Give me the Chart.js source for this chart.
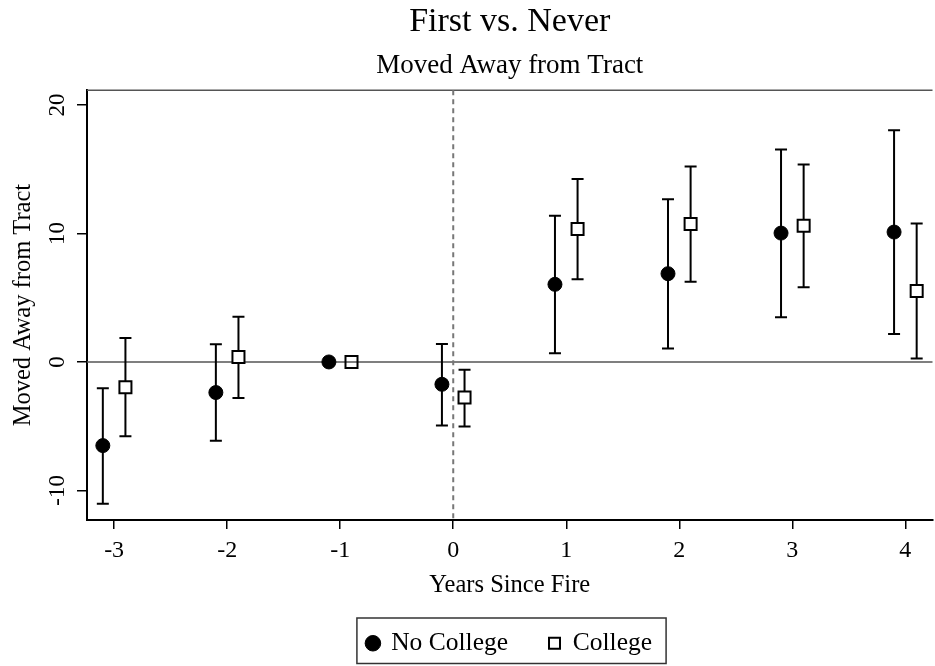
<!DOCTYPE html>
<html>
<head>
<meta charset="utf-8">
<script src="https://cdn.jsdelivr.net/npm/chart.js@4.4.0/dist/chart.umd.min.js"></script>
<style>
  html, body { margin: 0; padding: 0; background: #fff; overflow: hidden; }
  canvas { display: block; }
</style>
</head>
<body>
<canvas id="eventChart" width="943" height="666"></canvas>
<script>
Chart.defaults.font.family = "'Liberation Serif', 'Times New Roman', serif";
Chart.defaults.color = '#000';

// event time relative to the fire
const years = [-3, -2, -1, 0, 1, 2, 3, 4];
const yTicks = [-10, 0, 10, 20];

// no college: point estimate and 95% CI (year -1 is the omitted base)
const noCollegeEst = [-6.51, -2.38, 0, -1.74, 6.04, 6.87, 10.03, 10.11];
const noCollegeLo  = [-11.04, -6.14, null, -4.95, 0.67, 1.04, 3.47, 2.18];
const noCollegeHi  = [-2.05, 1.37, null, 1.40, 11.38, 12.67, 16.54, 18.04];

// college
const collegeEst = [-1.97, 0.39, 0, -2.77, 10.34, 10.73, 10.60, 5.52];
const collegeLo  = [-5.78, -2.80, null, -5.03, 6.43, 6.25, 5.81, 0.26];
const collegeHi  = [1.87, 3.52, null, -0.60, 14.23, 15.22, 15.37, 10.78];

// dodge the two groups a little around each year
function dodge(est, dx) {
  return years.map((yr, i) => ({ x: yr + dx, y: est[i] }));
}

// zero line, plot top edge and the dashed line at year 0
const refLines = {
  id: 'refLines',
  beforeDatasetsDraw(chart) {
    const { ctx, chartArea: a, scales: { x, y } } = chart;
    ctx.save();
    ctx.strokeStyle = '#555';
    ctx.lineWidth = 1.5;
    const y0 = y.getPixelForValue(0);
    ctx.beginPath();
    ctx.moveTo(a.left, y0); ctx.lineTo(a.right, y0);
    ctx.moveTo(a.left, a.top); ctx.lineTo(a.right, a.top);
    ctx.stroke();

    const x0 = x.getPixelForValue(0);
    ctx.strokeStyle = '#777';
    ctx.lineWidth = 2;
    ctx.setLineDash([5, 4]);
    ctx.beginPath();
    ctx.moveTo(x0, a.top); ctx.lineTo(x0, a.bottom);
    ctx.stroke();
    ctx.restore();
  }
};

// capped confidence intervals
const errorBars = {
  id: 'errorBars',
  beforeDatasetsDraw(chart) {
    const { ctx, scales: { x, y } } = chart;
    ctx.save();
    ctx.strokeStyle = '#000';
    ctx.lineWidth = 2;
    chart.data.datasets.forEach(ds => {
      ds.data.forEach((pt, i) => {
        if (ds.lo[i] == null) return;
        const px = x.getPixelForValue(pt.x);
        const top = y.getPixelForValue(ds.hi[i]);
        const bot = y.getPixelForValue(ds.lo[i]);
        ctx.beginPath();
        ctx.moveTo(px, top); ctx.lineTo(px, bot);
        ctx.moveTo(px - 6, top); ctx.lineTo(px + 6, top);
        ctx.moveTo(px - 6, bot); ctx.lineTo(px + 6, bot);
        ctx.stroke();
      });
    });
    ctx.restore();
  }
};

// frame around the legend
const legendFrame = {
  id: 'legendFrame',
  afterDraw(chart) {
    const boxes = chart.legend && chart.legend.legendHitBoxes;
    if (!boxes || !boxes.length) return;
    const left = Math.min(...boxes.map(b => b.left));
    const right = Math.max(...boxes.map(b => b.left + b.width));
    const top = Math.min(...boxes.map(b => b.top));
    const bottom = Math.max(...boxes.map(b => b.top + b.height));
    const { ctx } = chart;
    ctx.save();
    ctx.strokeStyle = '#333';
    ctx.lineWidth = 1.5;
    ctx.strokeRect(left - 10.5, top - 12.5, right - left + 24.5, bottom - top + 20);
    ctx.restore();
  }
};

new Chart(document.getElementById('eventChart'), {
  type: 'scatter',
  data: {
    datasets: [{
      label: 'No College',
      data: dodge(noCollegeEst, -0.1),
      lo: noCollegeLo,
      hi: noCollegeHi,
      pointStyle: 'circle',
      pointRadius: 7,
      backgroundColor: '#000',
      borderColor: '#000',
      borderWidth: 1
    }, {
      label: 'College',
      data: dodge(collegeEst, 0.1),
      lo: collegeLo,
      hi: collegeHi,
      pointStyle: 'rect',
      pointRadius: 8.5,
      backgroundColor: c => (collegeHi[c.dataIndex] == null ? 'rgba(0,0,0,0)' : '#fff'),
      borderColor: '#000',
      borderWidth: 2
    }]
  },
  options: {
    responsive: false,
    animation: false,
    layout: { padding: { left: 0, right: 0, top: 0, bottom: 0 } },
    plugins: {
      title: {
        display: true,
        text: 'First vs. Never',
        fullSize: false,
        color: '#000',
        font: { size: 34, weight: 'normal' },
        padding: { top: 2, bottom: 0 }
      },
      subtitle: {
        display: true,
        text: 'Moved Away from Tract',
        fullSize: false,
        color: '#000',
        font: { size: 27, weight: 'normal' },
        padding: { top: 7, bottom: 8 }
      },
      legend: {
        position: 'bottom',
        fullSize: false,
        labels: {
          usePointStyle: true,
          boxWidth: 11,
          boxHeight: 11,
          padding: 41,
          color: '#000',
          font: { size: 25.5 }
        }
      },
      tooltip: { enabled: false }
    },
    scales: {
      x: {
        type: 'linear',
        min: -3.24,
        max: 4.24,
        afterBuildTicks: axis => { axis.ticks = years.map(v => ({ value: v })); },
        afterFit: axis => { axis.height = 69.5; },
        border: { color: '#000', width: 2 },
        grid: { drawOnChartArea: false, color: '#000', lineWidth: 1.5, tickLength: 9 },
        ticks: { padding: 7, color: '#000', font: { size: 24 } },
        title: {
          display: true,
          text: 'Years Since Fire',
          color: '#000',
          font: { size: 24.5 },
          padding: { top: 0, bottom: -10.5 }
        }
      },
      y: {
        min: -12.3,
        max: 21.15,
        afterBuildTicks: axis => { axis.ticks = yTicks.map(v => ({ value: v })); },
        afterFit: axis => { axis.width = 87; },
        border: { color: '#000', width: 2 },
        grid: { drawOnChartArea: false, color: '#000', lineWidth: 1.5, tickLength: 10 },
        ticks: {
          minRotation: 90,
          maxRotation: 90,
          crossAlign: 'center',
          padding: 4,
          color: '#000',
          font: { size: 23 }
        },
        title: {
          display: true,
          text: 'Moved Away from Tract',
          color: '#000',
          font: { size: 24.5 },
          padding: { top: 8.7, bottom: 0 }
        }
      }
    }
  },
  plugins: [refLines, errorBars, legendFrame]
});
</script>
</body>
</html>
